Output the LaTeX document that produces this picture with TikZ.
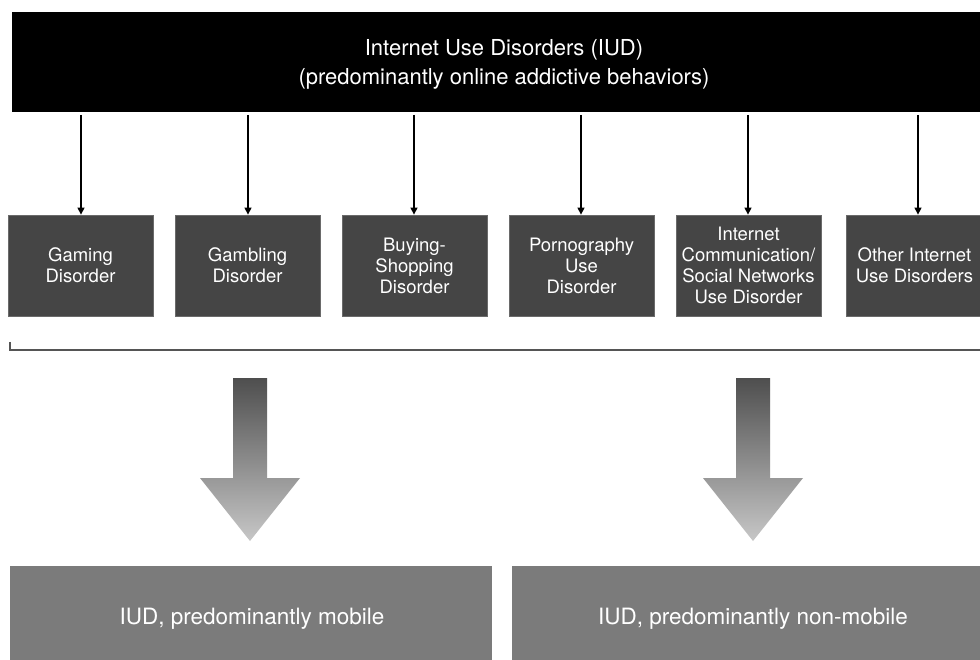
\documentclass[tikz,border=0pt]{standalone}
\usepackage{fontspec}
\setmainfont{TeX Gyre Heros}
\usetikzlibrary{arrows.meta}
\definecolor{boxdark}{HTML}{454545}
\definecolor{boxedge}{HTML}{6a6a6a}
\definecolor{boxmid}{HTML}{7b7b7b}
\definecolor{bracketgray}{HTML}{555555}
\begin{document}
\begin{tikzpicture}[x=1pt,y=-1pt,
  toptext/.style={text=white,align=center,font=\fontsize{22}{29}\selectfont},
  catbox/.style={fill=boxdark,draw=boxedge,line width=0.8pt,text=white,align=center,minimum width=145pt,minimum height=101pt,inner sep=0pt,font=\fontsize{18.5}{21}\selectfont},
  outbox/.style={fill=boxmid,draw=none,minimum height=100pt,inner sep=0pt,anchor=north west},
  outtext/.style={text=white,font=\fontsize{22.5}{26}\selectfont},
  thinarrow/.style={draw=black,line width=1.3pt,-{Triangle[length=7pt,width=7pt]}},
  bigarrow/.style={top color=boxdark!95,bottom color=black!22,draw=none}
]
\useasboundingbox (0,0) rectangle (980,660);
\fill[white] (0,0) rectangle (980,660);
% top box
\fill[black] (12,12) rectangle (990,112);
\node[toptext] (top) at (504,64) {Internet Use Disorders (IUD)\\(predominantly online addictive behaviors)};
% category boxes
\node[catbox] (c1) at (80.5,265.5) {Gaming\\Disorder};
\node[catbox] (c2) at (247.5,265.5) {Gambling\\Disorder};
\node[catbox] (c3) at (414.5,265.5) {Buying-\\Shopping\\Disorder};
\node[catbox] (c4) at (581.5,265.5) {Pornography\\Use\\Disorder};
\node[catbox] (c5) at (748.5,265.5) {Internet\\Communication/\\Social Networks\\Use Disorder};
\node[catbox,minimum width=150pt,anchor=west] (c6) at (846,265.5) {\hspace*{-14pt}Other Internet\\\hspace*{-14pt}Use Disorders};
% thin arrows
\foreach \i/\xx in {1/81,2/248,3/414,4/581,5/748,6/918}{
  \coordinate (s\i) at (\xx,115);
  \draw[thinarrow] (s\i) -- (s\i |- c\i.north);
}
% bracket
\coordinate (b0) at (10,342);
\coordinate (b1) at (10,350);
\coordinate (b2) at (985,350);
\draw[bracketgray,line width=2.6pt] (b0) -- (b1) -- (b2);
% big arrows
\foreach \cx in {250,753}{
  \path[bigarrow] (\cx-17,378) -- (\cx+17,378) -- (\cx+17,478) -- (\cx+50,478) -- (\cx,541) -- (\cx-50,478) -- (\cx-17,478) -- cycle;
}
% bottom boxes
\node[outbox,minimum width=482pt] (o1) at (10,566) {};
\node[outbox,minimum width=478pt] (o2) at (512,566) {};
\node[outtext] (t1) at (252,619) {IUD, predominantly mobile};
\node[outtext] (t2) at (753,619) {IUD, predominantly non-mobile};
\end{tikzpicture}
\end{document}
